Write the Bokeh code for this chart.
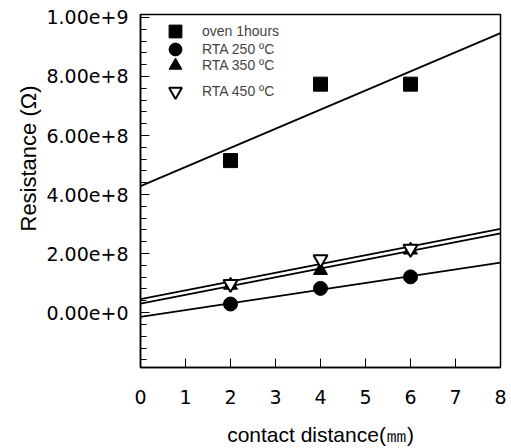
import numpy as np
from bokeh.plotting import figure
from bokeh.models import (Legend, LegendItem, SingleIntervalTicker, FixedTicker,
                          CustomJSTickFormatter, Range1d, Title)
from bokeh.embed import file_html
from bokeh.resources import INLINE

# data
distance = [2, 4, 6]
oven_1h = [5.15e8, 7.74e8, 7.74e8]
rta_250 = [0.29e8, 0.82e8, 1.21e8]
rta_350 = [0.93e8, 1.43e8, 2.12e8]
rta_450 = [0.97e8, 1.81e8, 2.16e8]
series_names = ["oven 1hours", "RTA 250 \u00baC", "RTA 350 \u00baC", "RTA 450 \u00baC"]
x_ticks = [0, 1, 2, 3, 4, 5, 6, 7, 8]
fit_x = [0, 8]

FONT = "Liberation Sans"
TICK_FONT = "DejaVu Sans"

p = figure(width=511, height=448, output_backend="svg", toolbar_location=None,
           x_range=Range1d(0, 8), y_range=Range1d(-1.86e8, 1.01e9),
           min_border_left=140, min_border_right=11, min_border_top=14,
           min_border_bottom=74)
p.background_fill_color = "white"
p.outline_line_color = "black"
p.outline_line_width = 1.5
p.xgrid.visible = False
p.ygrid.visible = False

series = [oven_1h, rta_250, rta_350, rta_450]
markers = ["square", "circle", "triangle", "inverted_triangle"]
fills = ["black", "black", "black", "white"]
legend_bottoms = [320, 302, 286, 260]
for name, ys, mk, fc, lb in zip(series_names, series, markers, fills, legend_bottoms):
    slope, icpt = np.polyfit(distance, ys, 1)
    fy = [icpt + slope * xx for xx in fit_x]
    p.line(fit_x, fy, line_color="black", line_width=1.8)
    r = p.scatter(distance, ys, marker=mk, size=14, fill_color=fc,
                  line_color="black", line_width=2 if fc == "white" else 1)
    lg = Legend(items=[LegendItem(label=name, renderers=[r])], location=(19, lb),
                padding=0, margin=0, spacing=0, glyph_width=32, glyph_height=32,
                label_height=32, label_standoff=11, border_line_color=None,
                background_fill_alpha=0, label_text_font=FONT,
                label_text_font_size="14px")
    p.add_layout(lg, "center")

# axes
p.xaxis.ticker = FixedTicker(ticks=x_ticks)
p.yaxis.ticker = SingleIntervalTicker(interval=2e8, num_minor_ticks=5)
p.yaxis.formatter = CustomJSTickFormatter(code="return tick.toExponential(2);")
for ax in (p.xaxis[0], p.yaxis[0]):
    ax.axis_line_color = "black"
    ax.axis_line_width = 1.5
    ax.major_tick_in = 9
    ax.major_tick_out = 0
    ax.minor_tick_in = 6
    ax.minor_tick_out = 0
    ax.major_tick_line_color = "black"
    ax.minor_tick_line_color = "black"
    ax.major_label_text_font = TICK_FONT
    ax.major_label_text_font_size = "19px"
    ax.major_label_text_color = "black"
    ax.axis_label_text_font = FONT
    ax.axis_label_text_font_size = "21px"
    ax.axis_label_text_font_style = "normal"
    ax.axis_label_text_color = "black"
p.xaxis.minor_tick_line_color = None
p.xaxis.major_label_standoff = 22
p.xaxis.axis_label = "contact distance(\u339c)"
p.xaxis.axis_label_standoff = 16
p.yaxis.major_label_standoff = 12

ytitle = Title(text="Resistance (\u03a9)", align="left", offset=136,
               standoff=6, text_font=FONT, text_font_size="22px",
               text_font_style="normal", text_color="black")
p.add_layout(ytitle, "left")

open("out.html", "w").write(file_html(p, INLINE))
